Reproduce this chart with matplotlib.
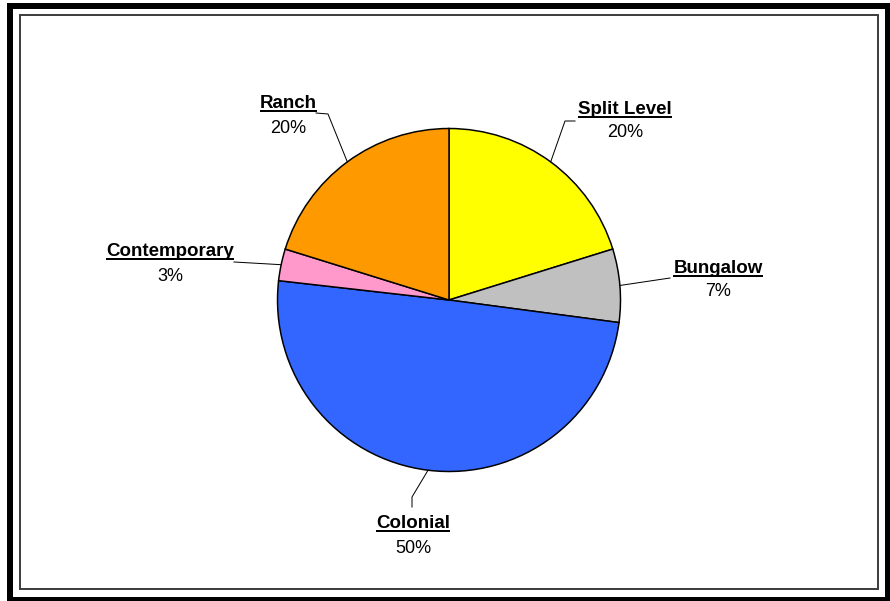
import matplotlib.pyplot as plt
from matplotlib.patches import Rectangle
import numpy as np

plt.rcParams['font.family'] = ['Liberation Sans', 'DejaVu Sans']

# house styles, clockwise from 12 o'clock
styles = ['Split Level', 'Bungalow', 'Colonial', 'Contemporary', 'Ranch']
shares = [20.2, 6.9, 49.7, 3.0, 20.2]
colors = ['#FFFF00', '#C0C0C0', '#3366FF', '#FF99CC', '#FF9900']

W, H = 890, 601
PT = 72.0 / 100  # points per pixel at dpi 100

# label layout in pixels from the top-left corner:
# name baseline (x centre, y), percent baseline y, leader points from the label towards the pie
label_pos = {
    'Split Level':  (625, 114, 137, [(575, 121), (565, 121)]),
    'Bungalow':     (718, 273, 296, [(670, 278)]),
    'Colonial':     (413, 528, 553, [(412, 507), (412, 497)]),
    'Contemporary': (170, 256, 281, [(234, 262)]),
    'Ranch':        (288, 108, 133, [(316, 113), (328, 114)]),
}

center = (449, H - 300)
radius = 171.5


def flip(y):
    return H - y


fig = plt.figure(figsize=(W / 100, H / 100), dpi=100)
ax = fig.add_axes([0, 0, 1, 1])

wedges, _ = ax.pie(shares, colors=colors, startangle=90, counterclock=False,
                   center=center, radius=radius,
                   wedgeprops=dict(edgecolor='black', linewidth=1.5 * PT))

# pie() resets the limits, so fix the pixel frame afterwards
ax.set_xlim(0, W)
ax.set_ylim(0, H)
ax.set_aspect('equal')
ax.axis('off')

# frames
ax.add_patch(Rectangle((10, flip(600)), 878, 594, fill=False,
                       edgecolor='black', linewidth=6 * PT, clip_on=False))
ax.add_patch(Rectangle((20, flip(589)), 858, 574, fill=False,
                       edgecolor='#404040', linewidth=2 * PT))

fig.canvas.draw()
renderer = fig.canvas.get_renderer()

total = sum(shares)
cum = 0
for name, val in zip(styles, shares):
    mid = np.deg2rad(90 - 360 * (cum + val / 2) / total)
    cum += val
    x, yb, yp, leader = label_pos[name]

    t = ax.text(x, flip(yb), name, ha='center', va='baseline',
                fontsize=13.5, fontweight='bold', color='black')
    ax.text(x, flip(yp), f'{val:.0f}%', ha='center', va='baseline',
            fontsize=13, color='black')

    # underline under the bold name
    bb = t.get_window_extent(renderer)
    uy = flip(yb) - 2.5
    ax.plot([bb.x0, bb.x1], [uy, uy], color='black', linewidth=2 * PT,
            solid_capstyle='butt')

    # leader line to the wedge edge
    px = [p[0] for p in leader] + [center[0] + radius * np.cos(mid)]
    py = [flip(p[1]) for p in leader] + [center[1] + radius * np.sin(mid)]
    ax.plot(px, py, color='black', linewidth=1 * PT)

fig.savefig('out.png', dpi=100)
